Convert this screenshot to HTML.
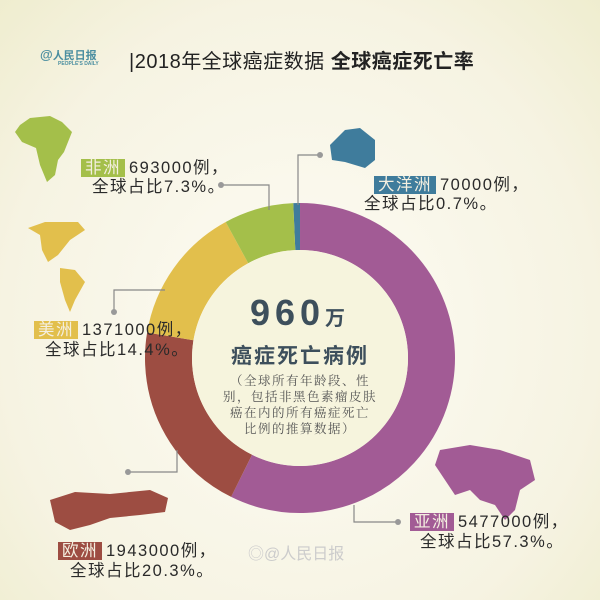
<!DOCTYPE html>
<html><head><meta charset="utf-8"><style>
body{margin:0;width:600px;height:600px;overflow:hidden;background:radial-gradient(ellipse at 50% 55%,#fdfcf4 0%,#f6f3e2 70%,#efedcf 100%);font-family:"Liberation Sans","Noto Sans CJK SC",sans-serif;}
svg{position:absolute;left:0;top:0}
.t{position:absolute;font-size:16.5px;color:#2a2a2a;letter-spacing:1.5px;white-space:nowrap;line-height:20px}
.b{color:#f4efe0;padding:0 4px;margin-right:4px}
</style></head><body>
<svg width="600" height="600" viewBox="0 0 600 600">
<g transform="rotate(-92.5 300 358)" fill="none" stroke-width="47">
<circle cx="300" cy="358" r="131.5" stroke="#3f7c9c" stroke-dasharray="5.8 826.2" stroke-dashoffset="0"/>
<circle cx="300" cy="358" r="131.5" stroke="#a25b95" stroke-dasharray="473.4 826.2" stroke-dashoffset="-5.8"/>
<circle cx="300" cy="358" r="131.5" stroke="#9d4d42" stroke-dasharray="167.7 826.2" stroke-dashoffset="-479.2"/>
<circle cx="300" cy="358" r="131.5" stroke="#e2bf4c" stroke-dasharray="119 826.2" stroke-dashoffset="-646.9"/>
<circle cx="300" cy="358" r="131.5" stroke="#a4bf4a" stroke-dasharray="60.3 826.2" stroke-dashoffset="-765.9"/>
</g>
<circle cx="300" cy="358" r="108" fill="#f6f4dd"/>
<g stroke="#888" stroke-width="1.2" fill="none">
<polyline points="221,185 269,185 269,210"/>
<polyline points="114,312 114,290 165,290"/>
<polyline points="298,205 298,155 320,155"/>
<polyline points="128,472 177,472 177,450"/>
<polyline points="354,505 354,522 398,522"/>
</g>
<g fill="#999"><circle cx="221" cy="185" r="3"/><circle cx="114" cy="312" r="3"/><circle cx="320" cy="155" r="3"/><circle cx="128" cy="472" r="3"/><circle cx="398" cy="522" r="3"/></g>
<path d="M20,125 L30,118 50,116 62,122 72,132 64,152 58,160 55,175 47,182 40,165 36,148 22,142 15,132Z" fill="#a4bf4a"/>
<path d="M28,228 L45,222 78,222 85,230 70,240 58,255 48,262 42,250 40,235Z M60,268 L75,270 85,282 75,300 70,312 65,300 60,282Z" fill="#e2bf4c"/>
<path d="M330,145 L345,130 360,128 375,140 375,160 365,168 345,162 332,160Z" fill="#3f7c9c"/>
<path d="M50,500 L75,492 110,494 150,490 168,498 165,512 140,515 110,518 90,525 70,530 55,522Z" fill="#9d4d42"/>
<path d="M440,450 L470,445 500,450 530,460 535,480 520,490 515,510 505,520 495,505 480,500 470,490 455,495 445,480 435,465Z" fill="#a25b95"/>
</svg>
<div style="position:absolute;left:40px;top:47px;font-size:13px;color:#4a8ea0;font-weight:bold">@<span style="font-size:11px">人民日报</span><div style="font-size:5px;margin-left:18px;margin-top:-2px">PEOPLE'S DAILY</div></div>
<div style="position:absolute;left:129px;top:45px;font-size:20px;color:#222;white-space:nowrap;letter-spacing:0.5px">|2018年全球癌症数据 <b>全球癌症死亡率</b></div>
<div style="position:absolute;left:0;width:600px;top:292px;text-align:center;font-size:36px;font-weight:bold;color:#3d4f5c;font-family:'Liberation Sans',sans-serif;letter-spacing:5px">960<span style="font-size:20px;font-family:'Noto Sans CJK SC',sans-serif">万</span></div>
<div style="position:absolute;left:0;width:600px;top:340px;text-align:center;font-size:21px;font-weight:bold;color:#3d4f5c;letter-spacing:2px">癌症死亡病例</div>
<div style="position:absolute;left:200px;width:200px;top:372px;text-align:center;font-size:12.5px;color:#555;line-height:16px;font-family:'Noto Serif CJK SC',serif;letter-spacing:1.5px">（全球所有年龄段、性<br>别，包括非黑色素瘤皮肤<br>癌在内的所有癌症死亡<br>比例的推算数据）</div>
<div class="t" style="left:81px;top:158px"><span class="b" style="background:#a4bf4a">非洲</span>693000例，</div>
<div class="t" style="left:92px;top:177px">全球占比7.3%。</div>
<div class="t" style="left:34px;top:320px"><span class="b" style="background:#e2bf4c">美洲</span>1371000例，</div>
<div class="t" style="left:45px;top:340px">全球占比14.4%。</div>
<div class="t" style="left:374px;top:175px"><span class="b" style="background:#3f7c9c">大洋洲</span>70000例，</div>
<div class="t" style="left:364px;top:194px">全球占比0.7%。</div>
<div class="t" style="left:410px;top:512px"><span class="b" style="background:#a25b95">亚洲</span>5477000例，</div>
<div class="t" style="left:420px;top:532px">全球占比57.3%。</div>
<div class="t" style="left:58px;top:541px"><span class="b" style="background:#9d4d42">欧洲</span>1943000例，</div>
<div class="t" style="left:70px;top:561px">全球占比20.3%。</div>
<div style="position:absolute;left:248px;top:540px;font-size:16px;color:#ccc">◎@人民日报</div>
</body></html>
